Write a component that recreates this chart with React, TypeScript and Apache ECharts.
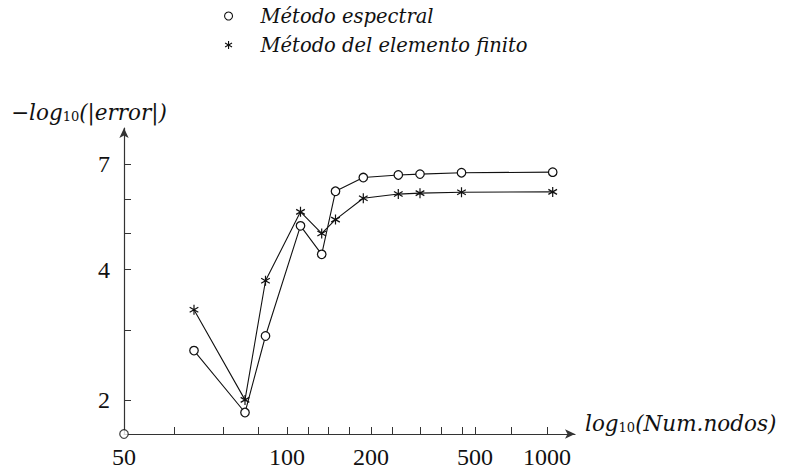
import React, { useEffect, useRef } from 'react';
import * as echarts from 'echarts';

// Horizontal positions along the (hand-drawn, non-uniform) x axis, in axis units
const xPositions = [70, 121, 141.5, 176.5, 197.7, 211.5, 239.3, 274.3, 296, 337.5, 428.7];
// -log10(|error|) values
const spectral = [2.6, 1.87, 2.81, 5.05, 4.34, 6.07, 6.53, 6.62, 6.65, 6.7, 6.72];
const finite = [3.23, 2.0, 3.77, 5.44, 4.85, 5.22, 5.85, 5.98, 6.01, 6.04, 6.05];
const spectralOrigin = [[0, 1.668]];

const xTickPositions = [0, 50, 99, 134, 163, 184, 204, 225, 247, 268, 296, 317, 338, 351, 387, 423];
const xLabelPositions = [0, 163, 247, 351, 423];
const xLabelTexts = ['50', '100', '200', '500', '1000'];
const yTickValues = [2, 2.9, 4, 4.85, 5.83, 7];
const yLabelValues = [2, 4, 7];
const yLabelTexts = ['2', '4', '7'];

const seriesNames = ['Método espectral', 'Método del elemento finito'];

const ASTERISK = 'path://M0,-10L0,10M-8.66,-5L8.66,5M-8.66,5L8.66,-5';
const INK = '#111';
const AXIS = '#333';

export default function App() {
  const ref = useRef<HTMLDivElement>(null);
  useEffect(() => {
    document.body.style.margin = '0';
    const chart = echarts.init(ref.current!, null, { renderer: 'svg' });
    const italic = { fontFamily: 'DejaVu Serif', fontStyle: 'italic' as const, fontSize: 21.5, lineHeight: 22, color: INK };
    const sub = { fontFamily: 'DejaVu Serif', fontSize: 13, lineHeight: 6, verticalAlign: 'bottom' as const, color: INK };
    const hollow = { color: '#fff', borderColor: INK, borderWidth: 1.25 };
    chart.setOption({
      animation: false,
      backgroundColor: '#fff',
      legend: {
        orient: 'vertical',
        left: 219,
        top: 0,
        itemWidth: 8,
        itemHeight: 8,
        itemGap: 7,
        data: [
          { name: seriesNames[0], icon: 'circle', itemStyle: { color: '#fff', borderColor: INK, borderWidth: 1.1 } },
          { name: seriesNames[1], icon: ASTERISK, itemStyle: { color: INK, borderColor: INK, borderWidth: 1.1 } },
        ],
        textStyle: {
          fontFamily: 'DejaVu Serif',
          fontStyle: 'italic',
          fontSize: 19.5,
          lineHeight: 22,
          color: INK,
          padding: [0, 0, 0, 23],
        },
      },
      grid: { left: 124, right: 211, top: 128, bottom: 30 },
      xAxis: {
        type: 'value',
        min: 0,
        max: 451,
        name: '{i|log}{s|10}{i|(Num.nodos)}',
        nameLocation: 'end',
        nameGap: 10,
        nameTextStyle: {
          align: 'left',
          verticalAlign: 'middle',
          padding: [0, 0, 22, 0],
          rich: { i: italic, s: sub },
        },
        splitLine: { show: false },
        axisLine: { show: true, lineStyle: { color: AXIS, width: 1.2 }, symbol: ['none', 'arrow'], symbolSize: [7, 10] },
        axisTick: { show: true, inside: true, length: 7, lineStyle: { color: AXIS, width: 1 }, customValues: xTickPositions },
        axisLabel: {
          customValues: xLabelPositions,
          margin: 11,
          fontFamily: 'Liberation Serif',
          fontSize: 24,
          color: INK,
          formatter: (v: number) => {
            const i = xLabelPositions.findIndex((p) => Math.abs(p - v) < 0.01);
            return i >= 0 ? xLabelTexts[i] : '';
          },
        },
      },
      yAxis: {
        type: 'log',
        min: 1.668,
        max: 8.5,
        name: '{i|\u2212log}{s|10}{i|(|error|)}',
        nameLocation: 'end',
        nameGap: 16,
        nameTextStyle: {
          align: 'center',
          verticalAlign: 'middle',
          padding: [0, 70, 0, 0],
          rich: { i: italic, s: sub },
        },
        splitLine: { show: false },
        axisLine: { show: true, lineStyle: { color: AXIS, width: 1.2 }, symbol: ['none', 'arrow'], symbolSize: [7, 10] },
        axisTick: { show: true, inside: true, length: 7, lineStyle: { color: AXIS, width: 1 }, customValues: yTickValues },
        axisLabel: {
          customValues: yLabelValues,
          margin: 14,
          fontFamily: 'Liberation Serif',
          fontSize: 24,
          color: INK,
          formatter: (v: number) => {
            const i = yLabelValues.findIndex((p) => Math.abs(p - v) < 0.01);
            return i >= 0 ? yLabelTexts[i] : '';
          },
        },
      },
      series: [
        {
          name: seriesNames[0],
          type: 'line',
          data: xPositions.map((x, i) => [x, spectral[i]]),
          symbol: 'circle',
          symbolSize: 8.5,
          lineStyle: { color: INK, width: 1.1 },
          itemStyle: hollow,
          z: 3,
        },
        {
          name: seriesNames[0],
          type: 'scatter',
          data: spectralOrigin,
          symbol: 'circle',
          symbolSize: 8.5,
          itemStyle: hollow,
          z: 5,
        },
        {
          name: seriesNames[1],
          type: 'line',
          data: xPositions.map((x, i) => [x, finite[i]]),
          symbol: ASTERISK,
          symbolSize: 10,
          symbolKeepAspect: true,
          lineStyle: { color: INK, width: 1.1 },
          itemStyle: { color: INK, borderColor: INK, borderWidth: 1.2 },
          z: 4,
        },
      ],
    });
    return () => chart.dispose();
  }, []);
  return <div ref={ref} style={{ width: 786, height: 469 }} />;
}
